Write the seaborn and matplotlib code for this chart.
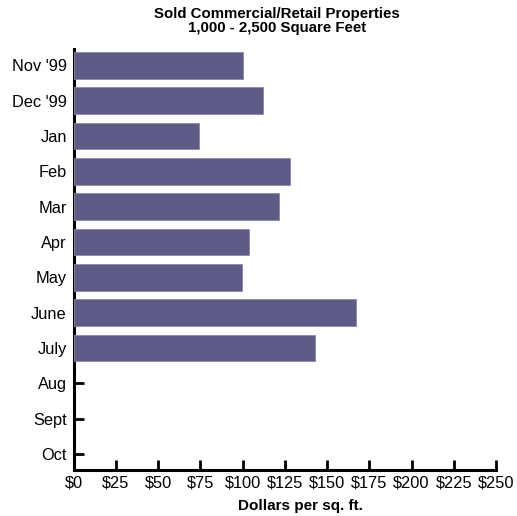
import numpy as np
import pandas as pd
import matplotlib as mpl
import matplotlib.pyplot as plt
import seaborn as sns

months = ["Nov '99", "Dec '99", "Jan", "Feb", "Mar", "Apr", "May",
          "June", "July", "Aug", "Sept", "Oct"]
price = [100, 112, 74, 128, 121.5, 103.5, 99.5, 167, 143,
         np.nan, np.nan, np.nan]
xticks = [0, 25, 50, 75, 100, 125, 150, 175, 200, 225, 250]

df = pd.DataFrame({"month": months, "price": price})

sns.set_style("ticks")
plt.rcParams["font.family"] = ["Liberation Sans", "DejaVu Sans"]
plt.rcParams["text.color"] = "black"

fig = plt.figure(figsize=(5.17, 5.16), dpi=100)
ax = fig.add_axes([0.1426, 0.0891, 0.8168, 0.8169])

sns.barplot(data=df, x="price", y="month", order=months, orient="h",
            color="#5e5c86", saturation=1, width=0.755,
            edgecolor="#8a89a8", linewidth=0.6, ax=ax, zorder=3)

ax.set_xlim(0, 250)
ax.set_ylim(11.45, -0.48)
ax.set_xticks(xticks)
ax.set_xticklabels([f"${v}" for v in xticks])

for s in ["top", "right"]:
    ax.spines[s].set_visible(False)
for s in ["left", "bottom"]:
    ax.spines[s].set_linewidth(2.2)
    ax.spines[s].set_color("black")
    ax.spines[s].set_zorder(2)

ax.tick_params(axis="both", direction="in", length=7, width=2,
               labelsize=11.8, colors="black", pad=5)
ax.tick_params(axis="x", pad=4)
ax.set_xlabel("")
ax.set_ylabel("")

narrow = ["Liberation Sans Narrow", "Liberation Sans", "DejaVu Sans"]
fig.text(300 / 517, 1 - 506 / 516, "Dollars per sq. ft.", ha="center",
         va="center", fontsize=11, fontweight="bold", family=narrow,
         color="black")
fig.text(277 / 517, 1 - 21 / 516,
         "Sold Commercial/Retail Properties\n1,000 - 2,500 Square Feet",
         ha="center", va="center", fontsize=10.8, fontweight="bold",
         family=narrow, linespacing=0.95, color="black")

plt.savefig("out.png", dpi=100)
